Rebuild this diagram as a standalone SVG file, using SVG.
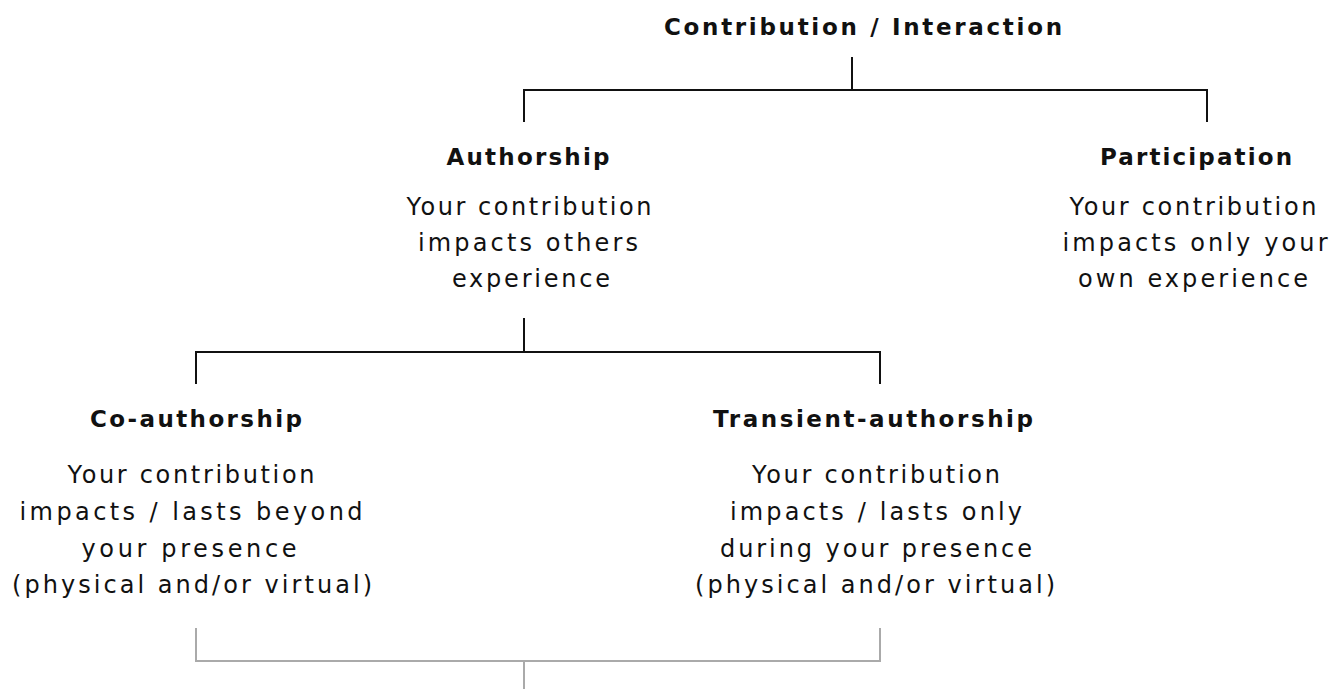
<svg xmlns="http://www.w3.org/2000/svg" width="1339" height="689" viewBox="0 0 1339 689">
<style>
text{font-family:"DejaVu Sans","Verdana",sans-serif;font-size:24px;fill:#111;text-anchor:middle}
.t{font-weight:bold;font-size:23px}
.c{fill:none;stroke:#111;stroke-width:2}
.g{fill:none;stroke:#aaa;stroke-width:2}
</style>
<rect width="1339" height="689" fill="#fff"/>
<g id="connectors">
<path class="c" d="M852,57V90M524,122V90H1207V122"/>
<path class="c" d="M524,318V352M196,384V352H880V384"/>
<path class="g" d="M196,628V661H880V628M524,661V689"/>
</g>
<g id="root"><text class="t" x="863" y="35" textLength="398" lengthAdjust="spacing">Contribution / Interaction</text></g>
<g id="authorship">
<text class="t" x="528" y="165" textLength="163" lengthAdjust="spacing">Authorship</text>
<text x="529" y="215" textLength="245" lengthAdjust="spacing">Your contribution</text>
<text x="528" y="251" textLength="220" lengthAdjust="spacing">impacts others</text>
<text x="531" y="287" textLength="158" lengthAdjust="spacing">experience</text>
</g>
<g id="participation">
<text class="t" x="1196" y="165" textLength="192" lengthAdjust="spacing">Participation</text>
<text x="1193" y="215" textLength="247" lengthAdjust="spacing">Your contribution</text>
<text x="1195" y="251" textLength="265" lengthAdjust="spacing">impacts only your</text>
<text x="1193" y="287" textLength="230" lengthAdjust="spacing">own experience</text>
</g>
<g id="co-authorship">
<text class="t" x="196" y="427" textLength="212" lengthAdjust="spacing">Co-authorship</text>
<text x="191" y="483" textLength="247" lengthAdjust="spacing">Your contribution</text>
<text x="191" y="520" textLength="343" lengthAdjust="spacing">impacts / lasts beyond</text>
<text x="189" y="557" textLength="215" lengthAdjust="spacing">your presence</text>
<text x="192" y="593" textLength="360" lengthAdjust="spacing">(physical and/or virtual)</text>
</g>
<g id="transient-authorship">
<text class="t" x="873" y="427" textLength="320" lengthAdjust="spacing">Transient-authorship</text>
<text x="876" y="483" textLength="248" lengthAdjust="spacing">Your contribution</text>
<text x="876" y="520" textLength="292" lengthAdjust="spacing">impacts / lasts only</text>
<text x="876" y="557" textLength="312" lengthAdjust="spacing">during your presence</text>
<text x="875" y="593" textLength="360" lengthAdjust="spacing">(physical and/or virtual)</text>
</g>
</svg>
